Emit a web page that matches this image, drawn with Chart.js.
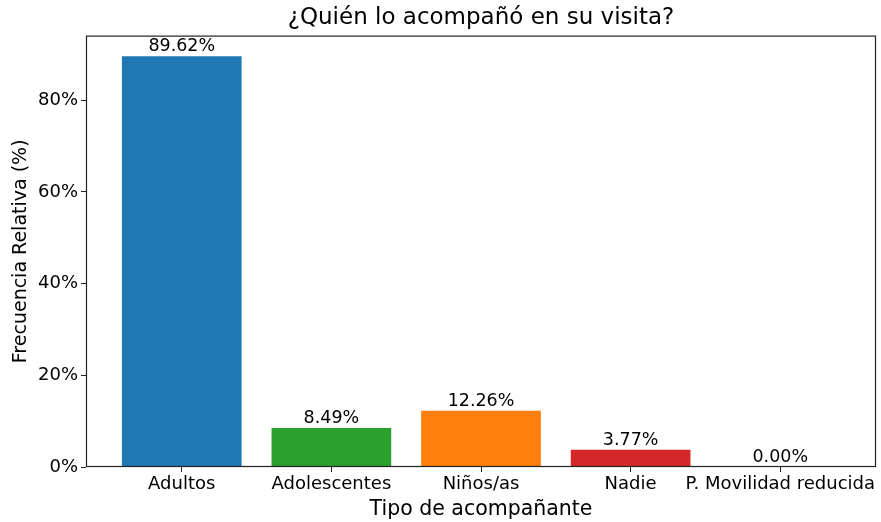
<!DOCTYPE html>
<html>
<head>
<meta charset="utf-8">
<script src="https://cdn.jsdelivr.net/npm/chart.js@4"></script>
<style>
  body { margin: 0; background: #fff; }
  #wrap { width: 881px; height: 522px; position: relative; }
</style>
</head>
<body>
<div id="wrap"><canvas id="chart"></canvas></div>
<script>
const categories = ['Adultos', 'Adolescentes', 'Niños/as', 'Nadie', 'P. Movilidad reducida'];
const values = [89.62, 8.49, 12.26, 3.77, 0.00];
const yTicks = [0, 20, 40, 60, 80];
const colors = ['#1f77b4', '#2ca02c', '#ff7f0e', '#d62728', '#9467bd'];

const FONT = 'DejaVu Sans';

// frame + value labels above bars
const extras = {
    id: 'extras',
    afterDatasetsDraw(chart) {
        const ctx = chart.ctx;
        const meta = chart.getDatasetMeta(0);
        ctx.save();
        ctx.font = '17.5px "' + FONT + '"';
        ctx.fillStyle = '#000';
        ctx.textAlign = 'center';
        ctx.textBaseline = 'bottom';
        meta.data.forEach((bar, i) => {
            ctx.fillText(values[i].toFixed(2) + '%', bar.x, bar.y - 1);
        });
        const a = chart.chartArea;
        ctx.strokeStyle = '#222';
        ctx.lineWidth = 1.2;
        ctx.strokeRect(a.left + 0.5, a.top + 0.5, a.right - a.left - 1, a.bottom - a.top - 1);
        ctx.restore();
    }
};

new Chart(document.getElementById('chart'), {
    type: 'bar',
    data: {
        datasets: [{
            data: values.map((v, i) => ({ x: i, y: v })),
            backgroundColor: colors,
            categoryPercentage: 0.8,
            barPercentage: 1.0,
        }]
    },
    options: {
        responsive: true,
        maintainAspectRatio: false,
        animation: false,
        layout: { padding: { left: 0, right: 5, top: 0, bottom: 0 } },
        plugins: {
            legend: { display: false },
            tooltip: { enabled: false },
            title: {
                display: true,
                fullSize: false,
                text: '¿Quién lo acompañó en su visita?',
                color: '#000',
                font: { family: FONT, size: 23, weight: 'normal' },
                padding: { top: 4, bottom: 4 },
            },
        },
        scales: {
            x: {
                type: 'linear',
                offset: false,
                min: -0.64,
                max: 4.64,
                afterBuildTicks: axis => { axis.ticks = categories.map((c, i) => ({ value: i })); },
                afterFit: axis => { axis.height = 55; },
                ticks: {
                    callback: v => categories[v],
                    color: '#000',
                    font: { family: FONT, size: 18 },
                    padding: 2,
                    maxRotation: 0,
                    autoSkip: false,
                },
                grid: { offset: false, drawOnChartArea: false, drawTicks: true, tickLength: 5, color: '#222' },
                border: { display: false },
                title: {
                    display: true,
                    text: 'Tipo de acompañante',
                    color: '#000',
                    font: { family: FONT, size: 20.5 },
                    padding: { top: 2, bottom: 0 },
                },
            },
            y: {
                min: 0,
                max: 94.1,
                afterBuildTicks: axis => { axis.ticks = yTicks.map(v => ({ value: v })); },
                afterFit: axis => { axis.width = 86; },
                ticks: {
                    callback: v => v + '%',
                    color: '#000',
                    font: { family: FONT, size: 18 },
                    padding: 3,
                },
                grid: { drawOnChartArea: false, drawTicks: true, tickLength: 5, color: '#222' },
                border: { display: false },
                title: {
                    display: true,
                    text: 'Frecuencia Relativa (%)',
                    color: '#000',
                    font: { family: FONT, size: 19 },
                    padding: { top: 10, bottom: 0 },
                },
            },
        },
    },
    plugins: [extras],
});
</script>
</body>
</html>
